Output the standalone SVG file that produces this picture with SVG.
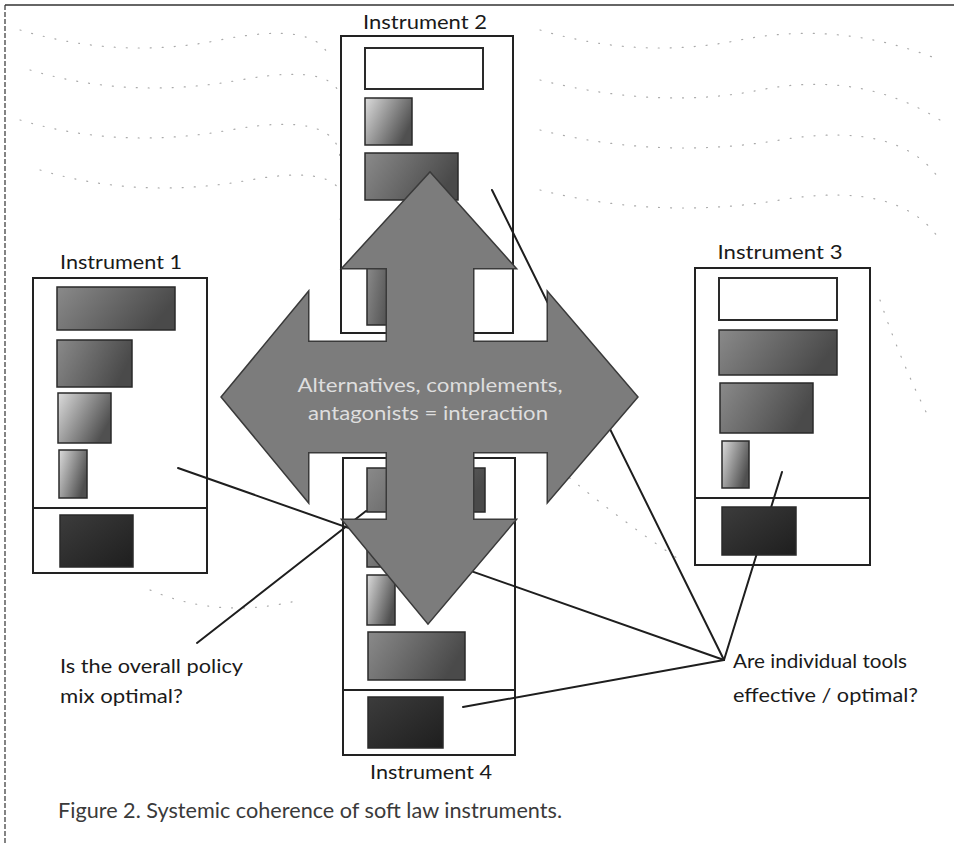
<svg xmlns="http://www.w3.org/2000/svg" width="954" height="845" viewBox="0 0 954 845">
<style>
.lbl{font-family:Lato,"Open Sans","Liberation Sans",sans-serif;font-size:20px;fill:#1a1a1a}
.q{font-family:Lato,"Open Sans","Liberation Sans",sans-serif;font-size:20px;fill:#1a1a1a}
.box{fill:#fff;stroke:#222;stroke-width:2}
.div{stroke:#222;stroke-width:2}
.r{stroke:#2a2a2a;stroke-width:1.5}
.wr{fill:#fff;stroke:#2a2a2a;stroke-width:2}
.conn{stroke:#1e1e1e;stroke-width:2;fill:none;stroke-linecap:round}
.arrowS{fill:none;stroke:#3a3a3a;stroke-width:3;stroke-linejoin:miter}
.arrowF{fill:#7c7c7c}
.bg{fill:none;stroke:#aaa;stroke-width:1.2;stroke-dasharray:1 11;stroke-linecap:round}
</style>
<defs>
<linearGradient id="gMed" x1="0" y1="0" x2="1" y2="0.3">
<stop offset="0" stop-color="#8a8a8a"/><stop offset="1" stop-color="#4a4a4a"/>
</linearGradient>
<linearGradient id="gLight" x1="0" y1="0" x2="1" y2="0.5">
<stop offset="0" stop-color="#dcdcdc"/><stop offset="1" stop-color="#505050"/>
</linearGradient>
<linearGradient id="gDark" x1="0" y1="0" x2="1" y2="1">
<stop offset="0" stop-color="#3c3c3c"/><stop offset="1" stop-color="#1e1e1e"/>
</linearGradient>
</defs>
<rect x="0" y="0" width="954" height="845" fill="#fff"/>
<g id="frame">
<line x1="5" y1="5" x2="954" y2="5" stroke="#333" stroke-width="1.5"/>
<line x1="5" y1="5" x2="5" y2="845" stroke="#333" stroke-width="1.2" stroke-dasharray="5 2"/>
</g>
<g id="background-dots">
<path class="bg" d="M20 30 Q120 60 220 40 T330 60"/>
<path class="bg" d="M30 70 Q130 100 240 80 T340 110"/>
<path class="bg" d="M20 120 Q120 150 230 130 T340 160"/>
<path class="bg" d="M40 170 Q140 200 250 180 T340 220"/>
<path class="bg" d="M540 30 Q640 60 740 40 T940 60"/>
<path class="bg" d="M540 80 Q660 110 760 90 T940 120"/>
<path class="bg" d="M540 130 Q660 160 780 140 T940 180"/>
<path class="bg" d="M540 190 Q660 220 780 200 T940 240"/>
<path class="bg" d="M120 300 Q160 330 200 350"/>
<path class="bg" d="M880 300 Q900 360 930 420"/>
<path class="bg" d="M560 470 Q620 520 680 560"/>
<path class="bg" d="M150 590 Q220 620 300 600"/>
</g>
<g id="instrument2">
<text class="lbl" x="425" y="29" text-anchor="middle" textLength="124" lengthAdjust="spacingAndGlyphs">Instrument 2</text>
<rect class="box" x="341" y="36" width="172" height="297"/>
<rect class="wr" x="365" y="48" width="118" height="41"/>
<rect class="r" x="365" y="98" width="47" height="47" fill="url(#gLight)"/>
<rect class="r" x="365" y="153" width="93" height="47" fill="url(#gMed)"/>
<rect class="r" x="367" y="267" width="30" height="58" fill="url(#gMed)"/>
</g>
<g id="instrument1">
<text class="lbl" x="121" y="269" text-anchor="middle" textLength="122" lengthAdjust="spacingAndGlyphs">Instrument 1</text>
<rect class="box" x="33" y="278" width="174" height="295"/>
<line class="div" x1="33" y1="508" x2="207" y2="508"/>
<rect class="r" x="57" y="287" width="118" height="43" fill="url(#gMed)"/>
<rect class="r" x="57" y="340" width="75" height="47" fill="url(#gMed)"/>
<rect class="r" x="58" y="393" width="53" height="50" fill="url(#gLight)"/>
<rect class="r" x="59" y="450" width="28" height="48" fill="url(#gLight)"/>
<rect class="r" x="60" y="515" width="73" height="52" fill="url(#gDark)"/>
</g>
<g id="instrument3">
<text class="lbl" x="780" y="259" text-anchor="middle" textLength="125" lengthAdjust="spacingAndGlyphs">Instrument 3</text>
<rect class="box" x="695" y="268" width="175" height="297"/>
<line class="div" x1="695" y1="498" x2="870" y2="498"/>
<rect class="wr" x="719" y="278" width="118" height="42"/>
<rect class="r" x="719" y="330" width="118" height="45" fill="url(#gMed)"/>
<rect class="r" x="720" y="383" width="93" height="50" fill="url(#gMed)"/>
<rect class="r" x="722" y="441" width="27" height="47" fill="url(#gLight)"/>
</g>
<g id="instrument4">
<text class="lbl" x="431" y="779" text-anchor="middle" textLength="122" lengthAdjust="spacingAndGlyphs">Instrument 4</text>
<rect class="box" x="343" y="458" width="172" height="297"/>
<line class="div" x1="343" y1="690" x2="515" y2="690"/>
<rect class="r" x="367" y="468" width="118" height="44" fill="url(#gMed)"/>
<rect class="r" x="367" y="520" width="75" height="47" fill="url(#gMed)"/>
<rect class="r" x="367" y="575" width="28" height="50" fill="url(#gLight)"/>
<rect class="r" x="368" y="632" width="97" height="48" fill="url(#gMed)"/>
<rect class="r" x="368" y="697" width="75" height="51" fill="url(#gDark)"/>
</g>
<g id="connectors">
<line class="conn" x1="178" y1="468" x2="724" y2="660"/>
<line class="conn" x1="197" y1="643" x2="366" y2="511"/>
<line class="conn" x1="492" y1="190" x2="724" y2="660"/>
<line class="conn" x1="782" y1="472" x2="724" y2="660"/>
<line class="conn" x1="463" y1="707" x2="724" y2="660"/>
</g>
<g id="instrument3-base">
<rect class="r" x="722" y="507" width="74" height="48" fill="url(#gDark)"/>
</g>
<g id="interaction-arrows">
<path class="arrowS" d="M430 173 L515 268 L473 268 L473 520 L515 520 L428 623 L343 520 L387 520 L387 268 L343 268 Z"/>
<path class="arrowS" d="M222 397 L308 293 L308 342 L548 342 L548 293 L637 397 L548 501 L548 452 L308 452 L308 501 Z"/>
<path class="arrowF" d="M430 173 L515 268 L473 268 L473 520 L515 520 L428 623 L343 520 L387 520 L387 268 L343 268 Z"/>
<path class="arrowF" d="M222 397 L308 293 L308 342 L548 342 L548 293 L637 397 L548 501 L548 452 L308 452 L308 501 Z"/>
<text x="430" y="392" text-anchor="middle" font-family="Lato,'Open Sans','Liberation Sans',sans-serif" font-size="19" fill="#dedede" textLength="265" lengthAdjust="spacingAndGlyphs">Alternatives, complements,</text>
<text x="428" y="420" text-anchor="middle" font-family="Lato,'Open Sans','Liberation Sans',sans-serif" font-size="19" fill="#dedede" textLength="240" lengthAdjust="spacingAndGlyphs">antagonists = interaction</text>
</g>
<g id="question-policy">
<text class="q" x="60" y="673" textLength="183" lengthAdjust="spacingAndGlyphs">Is the overall policy</text>
<text class="q" x="60" y="703" textLength="123" lengthAdjust="spacingAndGlyphs">mix optimal?</text>
</g>
<g id="question-tools">
<text class="q" x="733" y="668" textLength="174" lengthAdjust="spacingAndGlyphs">Are individual tools</text>
<text class="q" x="733" y="702" textLength="185" lengthAdjust="spacingAndGlyphs">effective / optimal?</text>
</g>
<g id="caption">
<text x="58" y="818" font-family="Lato,'Open Sans','Liberation Sans',sans-serif" font-size="21" fill="#3a3a3a" textLength="504" lengthAdjust="spacingAndGlyphs">Figure 2. Systemic coherence of soft law instruments.</text>
</g>
</svg>
